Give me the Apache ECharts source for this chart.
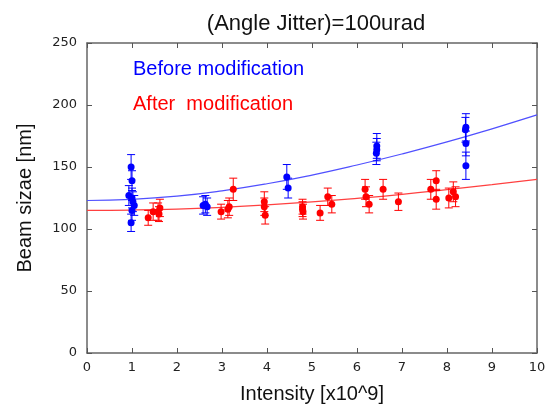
<!DOCTYPE html>
<html>
<head>
<meta charset="utf-8">
<script src="https://cdn.jsdelivr.net/npm/echarts@6/dist/echarts.min.js"></script>
<style>
  html, body { margin: 0; padding: 0; background: #fff; }
  #chart { width: 546px; height: 406px; }
</style>
</head>
<body>
<div id="chart"></div>
<script>
// measured points: [intensity, beam size, error]
const beforePts = [
  [0.98, 150, 10], [1.0, 139, 8], [0.93, 127, 8], [1.0, 125, 8], [1.02, 122, 8],
  [1.05, 119, 8], [1.0, 115, 8], [0.98, 105, 7],
  [2.58, 119, 7], [2.63, 120, 7], [2.67, 118, 7],
  [4.44, 142, 10], [4.47, 133, 8],
  [6.44, 167, 10], [6.44, 164, 9], [6.43, 161, 9],
  [8.42, 182, 11], [8.41, 180, 10], [8.42, 169, 10], [8.42, 151, 11]
]
const afterPts = [
  [1.36, 109, 6], [1.47, 114, 7], [1.58, 114, 7], [1.62, 117, 7], [1.6, 112, 6],
  [2.98, 114, 6], [3.13, 116, 7], [3.16, 118, 7], [3.25, 132, 9],
  [3.94, 122, 8], [3.94, 118, 7], [3.96, 111, 7],
  [4.79, 118, 6], [4.79, 116, 6], [4.8, 114, 6], [5.18, 113, 6], [5.35, 126, 7], [5.44, 120, 7],
  [6.18, 132, 8], [6.2, 126, 8], [6.27, 120, 7], [6.58, 132, 8], [6.92, 122, 7],
  [7.64, 132, 8], [7.76, 139, 8], [7.76, 124, 8], [8.04, 125, 8], [8.14, 130, 8], [8.19, 126, 8]
]
// fit curves
const fitX = [0, 1, 2, 3, 4, 5, 6, 7, 8, 9, 10]
const beforeFit = [123, 123.9, 126.5, 130.8, 136.5, 143.5, 151.6, 160.5, 170.2, 180.8, 192]
const afterFit = [115, 115.3, 116.1, 117.5, 119.4, 121.8, 124.7, 128, 131.8, 135.8, 140]

const chart = echarts.init(document.getElementById('chart'))

const errBars = (color) => (params, api) => {
  const x = api.value(0), y = api.value(1), e = api.value(2)
  const top = api.coord([x, y + e])
  const bot = api.coord([x, y - e])
  const w = 4
  const st = { stroke: color, lineWidth: 1 }
  return {
    type: 'group',
    children: [
      { type: 'line', shape: { x1: top[0], y1: top[1], x2: bot[0], y2: bot[1] }, style: st },
      { type: 'line', shape: { x1: top[0] - w, y1: top[1], x2: top[0] + w, y2: top[1] }, style: st },
      { type: 'line', shape: { x1: bot[0] - w, y1: bot[1], x2: bot[0] + w, y2: bot[1] }, style: st }
    ]
  }
}

const axisLine = { show: true, onZero: false, lineStyle: { color: '#666', width: 1.5 } }
const axisTick = { show: true, inside: true, length: 5, lineStyle: { color: '#555' } }
const tickFont = { fontFamily: 'DejaVu Sans', fontSize: 13, color: '#222' }
const nameFont = { fontFamily: 'Liberation Sans', fontSize: 20, color: '#111' }

const option = {
  animation: false,
  title: {
    text: '(Angle Jitter)=100urad',
    left: 311, top: 8, textAlign: 'center',
    textStyle: { fontFamily: 'Liberation Sans', fontSize: 22, fontWeight: 'normal', color: '#111' }
  },
  graphic: [
    { type: 'text', left: 133, top: 59, style: { text: 'Before modification', fill: '#0000ff', font: '20px "Liberation Sans"' } },
    { type: 'text', left: 133, top: 94, style: { text: 'After  modification', fill: '#ff0000', font: '20px "Liberation Sans"' } }
  ],
  grid: { left: 87, right: 9, top: 43, bottom: 53, outerBoundsMode: 'none' },
  xAxis: [
    {
      type: 'value', min: 0, max: 10, interval: 1,
      name: 'Intensity [x10^9]', nameLocation: 'middle', nameGap: 31,
      nameTextStyle: nameFont,
      axisLine, axisTick, splitLine: { show: false },
      axisLabel: Object.assign({ margin: 8 }, tickFont)
    },
    {
      type: 'value', min: 0, max: 10, interval: 1, position: 'top',
      axisLine, axisTick, splitLine: { show: false }, axisLabel: { show: false }
    }
  ],
  yAxis: [
    {
      type: 'value', min: 0, max: 250, interval: 50,
      name: 'Beam sizae [nm]', nameLocation: 'middle', nameGap: 52,
      nameTextStyle: nameFont,
      axisLine, axisTick, splitLine: { show: false },
      axisLabel: Object.assign({ margin: 10 }, tickFont)
    },
    {
      type: 'value', min: 0, max: 250, interval: 50, position: 'right',
      axisLine, axisTick, splitLine: { show: false }, axisLabel: { show: false }
    }
  ],
  series: [
    {
      type: 'line', smooth: true, symbol: 'none',
      data: fitX.map((x, i) => [x, beforeFit[i]]),
      lineStyle: { color: '#5050ff', width: 1.2 }, z: 1
    },
    {
      type: 'line', smooth: true, symbol: 'none',
      data: fitX.map((x, i) => [x, afterFit[i]]),
      lineStyle: { color: '#ff4040', width: 1.2 }, z: 1
    },
    { type: 'custom', renderItem: errBars('#0000ff'), data: beforePts, z: 2 },
    { type: 'custom', renderItem: errBars('#ff0000'), data: afterPts, z: 2 },
    {
      type: 'scatter', symbolSize: 7, data: beforePts.map(p => [p[0], p[1]]),
      itemStyle: { color: '#0000ff', opacity: 1 }, z: 3
    },
    {
      type: 'scatter', symbolSize: 7, data: afterPts.map(p => [p[0], p[1]]),
      itemStyle: { color: '#ff0000', opacity: 1 }, z: 3
    }
  ]
}
chart.setOption(option)
</script>
</body>
</html>
